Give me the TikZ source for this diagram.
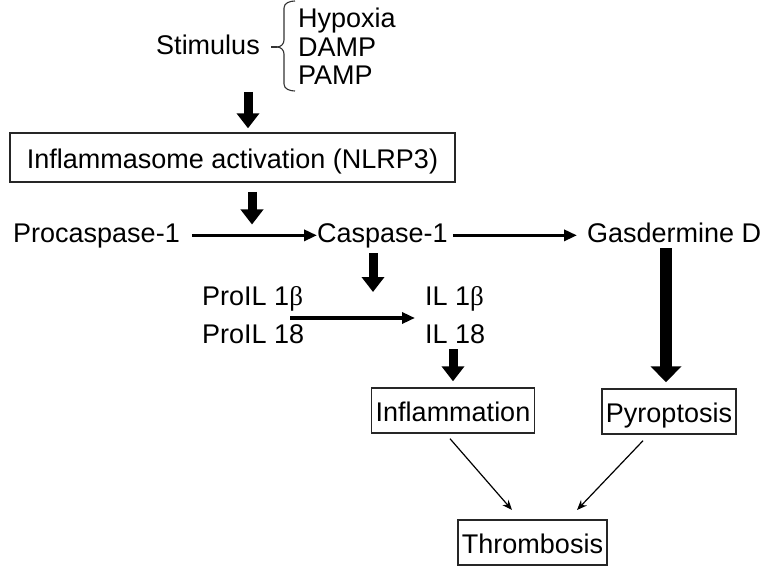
\documentclass[tikz,border=0pt]{standalone}
\usepackage{fontspec}
\setmainfont{Liberation Sans}
\newfontfamily\grk{Liberation Serif}
\usetikzlibrary{arrows.meta}
\begin{document}
\begin{tikzpicture}[x=1pt,y=-1pt,
  txt/.style={font=\fontsize{27}{32}\selectfont, inner sep=0pt, text height=19.3pt, text depth=0pt},
  boxed/.style={font=\fontsize{27}{32}\selectfont, draw=black!85, line width=1.4pt, inner xsep=4pt, inner ysep=11pt, text height=22pt, text depth=1pt},
  bigarrow/.style={line width=9pt, -{Triangle[width=22pt,length=15pt]}},
  hugearrow/.style={line width=12pt, -{Triangle[width=30pt,length=16pt]}},
  harrow/.style={line width=3.4pt, -{Triangle[width=11pt,length=13pt]}},
  thinarrow/.style={line width=1.2pt, -{Stealth[width=8pt,length=10pt]}},
  bracestyle/.style={line width=1.1pt, black!80}
]
\useasboundingbox (0,0) rectangle (777,575);

% stimulus and brace
\node[txt, anchor=base] (stim) at (208,55) {Stimulus};
\node[txt, anchor=base west] (hyp) at (298,28) {Hypoxia};
\node[txt, anchor=base west] (damp) at (298,57) {DAMP};
\node[txt, anchor=base west] (pamp) at (298,85) {PAMP};
\draw[bracestyle] (295,1) to[out=180,in=90] (284,8) -- (284,40) to[out=-90,in=0] (277,47);
\draw[bracestyle] (277,47) to[out=0,in=90] (284,54) -- (284,84) to[out=-90,in=180] (295,91);
\draw[bracestyle] (271,47) -- (277,47);

% inflammasome
\node[boxed, anchor=base, minimum width=445pt, inner ysep=13pt] (infl) at (232.5,168) {Inflammasome activation (NLRP3)};
\coordinate (a1s) at (248,92);
\draw[bigarrow] (a1s) -- ([yshift=4pt]infl.north -| a1s);

% caspase row
\node[txt, anchor=base west] (proc) at (13,242) {Procaspase-1};
\node[txt, anchor=base west] (casp) at (317,242) {Caspase-1};
\node[txt, anchor=base west] (gas) at (587,242) {Gasdermine D};
\draw[harrow] ([xshift=12pt,yshift=-3pt]proc.east) -- ([yshift=-3pt]casp.west);
\draw[harrow] ([xshift=5pt,yshift=-3pt]casp.east) -- ([xshift=-10pt,yshift=-3pt]gas.west);
\coordinate (a2s) at (252,192);
\draw[bigarrow] (a2s) -- ([yshift=-2pt]a2s |- casp.north);

% IL row
\node[txt, anchor=base west] (pro1) at (202,305) {ProIL 1{\grk β}};
\node[txt, anchor=base west] (pro18) at (202,343) {ProIL 18};
\node[txt, anchor=base west] (il1) at (425,305) {IL 1{\grk β}};
\node[txt, anchor=base west] (il18) at (425,343) {IL 18};
\coordinate (pa) at (290,318);
\coordinate (pb) at (415,318);
\draw[harrow] (pa) -- (pb);
\coordinate (a3s) at (373,253);
\coordinate (a3e) at (373,292);
\draw[bigarrow] (a3s) -- (a3e);

% outcome boxes
\node[boxed, anchor=base] (inflam) at (453,421) {Inflammation};
\node[boxed, anchor=base] (pyro) at (669,422) {Pyroptosis};
\node[boxed, anchor=base] (thromb) at (532.5,553) {Thrombosis};
\coordinate (a4s) at (453,349);
\draw[bigarrow] (a4s) -- ([yshift=6pt]inflam.north);
\coordinate (a5s) at (666,248);
\draw[hugearrow] (a5s) -- ([yshift=6pt]pyro.north -| a5s);

\coordinate (t1) at (512,510);
\coordinate (t2) at (577,510);
\draw[thinarrow] ([shift={(-3pt,-5pt)}]inflam.south) -- (t1);
\draw[thinarrow] ([shift={(-26pt,-6pt)}]pyro.south) -- (t2);
\end{tikzpicture}
\end{document}
